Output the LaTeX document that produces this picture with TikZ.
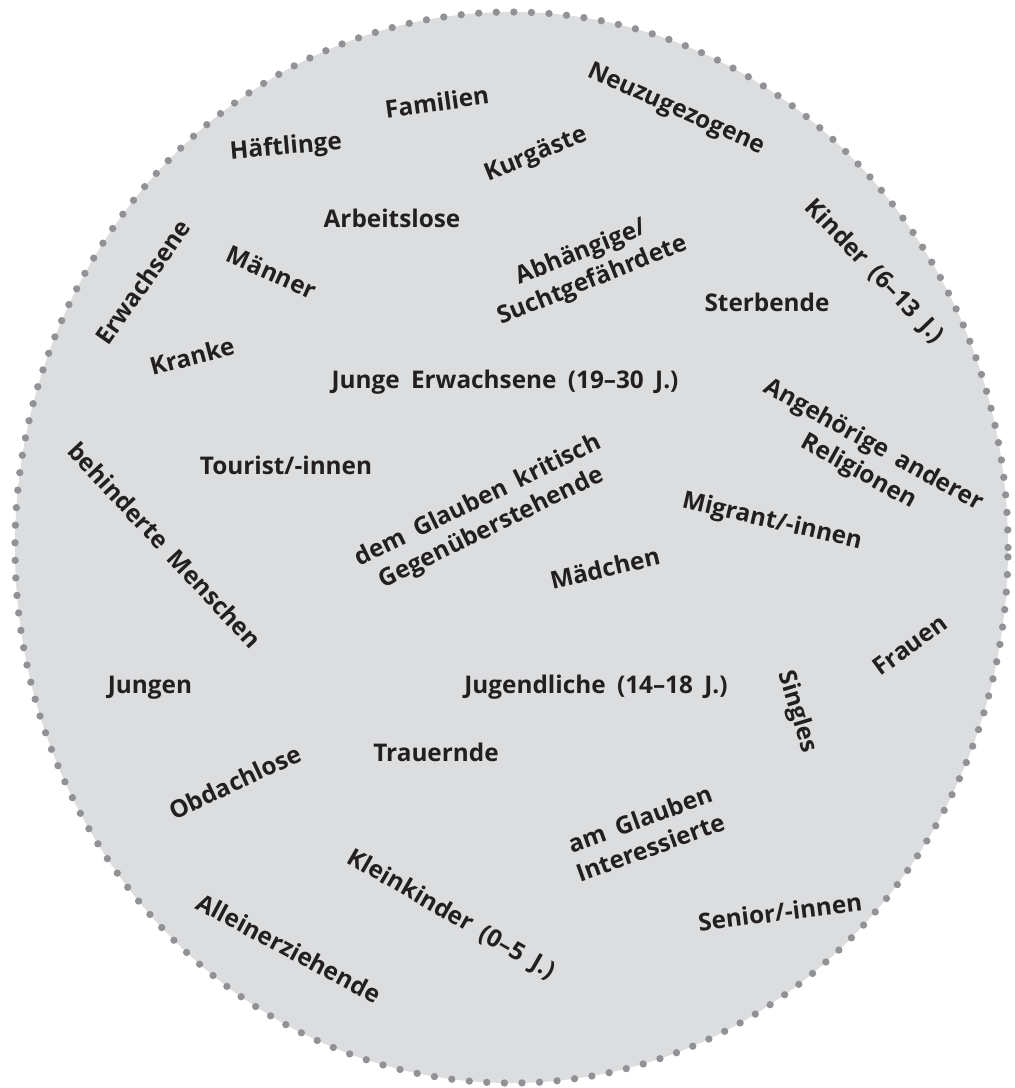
\documentclass[tikz,border=0pt]{standalone}
\usepackage{fontspec}
\setmainfont{Open Sans}[WordSpace=1.8]
\usepackage{xcolor}
\definecolor{circlefill}{HTML}{DCDDDF}
\definecolor{dotgray}{HTML}{909295}
\definecolor{textblack}{HTML}{231F20}
\tikzset{
  target/.style={text=textblack, font=\fontsize{17.3}{21.5}\selectfont\bfseries, inner sep=0pt, align=center},
  dotborder/.style={dotgray, line width=5.2pt, line cap=round, dash pattern=on 0pt off 12.5pt}
}

\begin{document}
\begin{tikzpicture}[x=0.025cm,y=0.025cm]
\useasboundingbox (0,0) rectangle (1015,-1088);
% Kreis
\fill[circlefill] (511.5,-547.5) ellipse [x radius=496.5, y radius=535.5];
\draw[dotborder] (511.5,-547.5) ellipse [x radius=496.5, y radius=535.5];

% Zielgruppen
\node[target, rotate=8] (familien) at (437,-102) {Familien};
\node[target, rotate=5] (haeftlinge) at (286,-148) {Häftlinge};
\node[target] (arbeitslose) at (392,-218) {Arbeitslose};
\node[target, rotate=55] (erwachsene) at (143,-282) {Erwachsene};
\node[target, rotate=-24] (maenner) at (272,-272) {Männer};
\node[target, rotate=15] (kranke) at (192,-356) {Kranke};
\node[target, rotate=22] (kurgaeste) at (536,-155) {Kurgäste};
\node[target, rotate=-24] (neuzugezogene) at (676,-110) {Neuzugezogene};
\node[target, rotate=22] (abhaengige) at (587,-267) {Abhängige/\\Suchtgefährdete};
\node[target, rotate=-46] (kinder) at (874,-272) {Kinder (6--13 J.)};
\node[target] (sterbende) at (767,-302) {Sterbende};
\node[target] (jungeerw) at (505,-382) {Junge Erwachsene (19--30 J.)};
\node[target, rotate=-29] (angehoerige) at (866,-459) {Angehörige anderer\\Religionen};
\node[target] (touristen) at (286,-465) {Tourist/-innen};
\node[target, rotate=-47] (behinderte) at (165,-545) {behinderte Menschen};
\node[target, rotate=26] (kritische) at (485,-515) {dem Glauben kritisch\\Gegenüberstehende};
\node[target, rotate=-13] (migranten) at (772,-522) {Migrant/-innen};
\node[target, rotate=13] (maedchen) at (605,-568) {Mädchen};
\node[target] (jungen) at (150,-688) {Jungen};
\node[target] (jugendliche) at (596,-687) {Jugendliche (14--18 J.)};
\node[target, rotate=-73] (singles) at (797,-712) {Singles};
\node[target, rotate=36] (frauen) at (910,-645) {Frauen};
\node[target, rotate=25] (obdachlose) at (235,-782) {Obdachlose};
\node[target] (trauernde) at (436,-752) {Trauernde};
\node[target, rotate=20] (interessierte) at (645,-833) {am Glauben\\Interessierte};
\node[target, rotate=-30] (kleinkinder) at (451,-915) {Kleinkinder (0--5 J.)};
\node[target, rotate=7] (senioren) at (780,-912) {Senior/-innen};
\node[target, rotate=-28] (alleinerziehende) at (289,-948) {Alleinerziehende};
\end{tikzpicture}
\end{document}
